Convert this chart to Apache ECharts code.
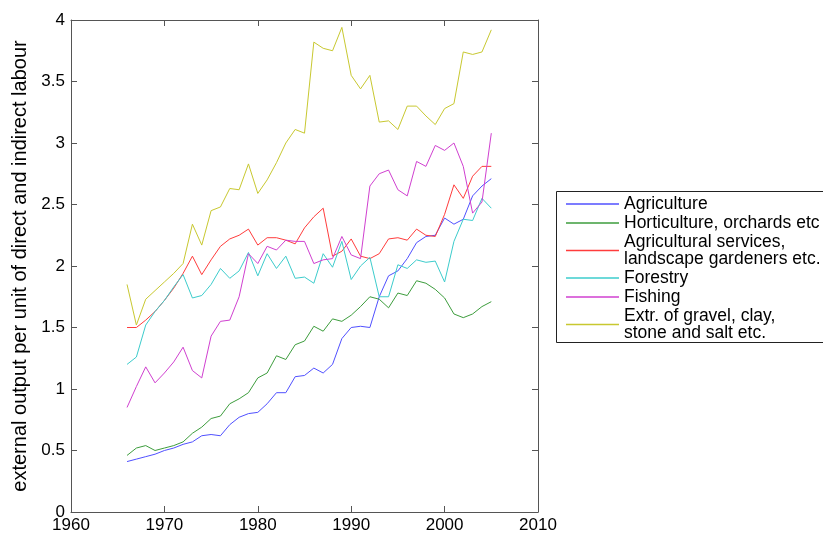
<!DOCTYPE html>
<html><head><meta charset="utf-8">
<script src="https://cdn.jsdelivr.net/npm/echarts@6/dist/echarts.min.js"></script>
<style>html,body{margin:0;padding:0;background:#fff}#c{width:823px;height:534px}</style>
</head><body><div id="c"></div>
<script>
const years = [1966,1967,1968,1969,1970,1971,1972,1973,1974,1975,1976,1977,1978,1979,1980,1981,1982,1983,1984,1985,1986,1987,1988,1989,1990,1991,1992,1993,1994,1995,1996,1997,1998,1999,2000,2001,2002,2003,2004,2005];
const agriculture = [0.41,0.43,0.45,0.47,0.50,0.52,0.55,0.57,0.62,0.63,0.62,0.71,0.77,0.80,0.81,0.88,0.97,0.97,1.10,1.11,1.17,1.13,1.20,1.41,1.50,1.51,1.50,1.75,1.92,1.96,2.06,2.19,2.24,2.25,2.39,2.34,2.38,2.57,2.65,2.71];
const horticulture = [0.46,0.52,0.54,0.50,0.52,0.54,0.57,0.64,0.69,0.76,0.78,0.88,0.92,0.97,1.09,1.13,1.27,1.24,1.36,1.39,1.51,1.47,1.57,1.55,1.60,1.67,1.75,1.73,1.66,1.78,1.76,1.88,1.86,1.81,1.74,1.61,1.58,1.61,1.67,1.71];
const agriServices = [1.50,1.50,1.56,1.63,1.72,1.82,1.94,2.08,1.93,2.05,2.16,2.22,2.25,2.30,2.17,2.23,2.23,2.21,2.18,2.31,2.40,2.47,2.08,2.12,2.22,2.08,2.06,2.10,2.22,2.23,2.21,2.30,2.25,2.24,2.42,2.66,2.55,2.73,2.81,2.81];
const forestry = [1.20,1.26,1.52,1.63,1.72,1.83,1.93,1.74,1.76,1.85,1.98,1.90,1.96,2.11,1.92,2.10,1.98,2.08,1.90,1.91,1.86,2.10,1.99,2.20,1.89,2.00,2.07,1.75,1.75,2.01,1.98,2.05,2.03,2.04,1.87,2.20,2.38,2.37,2.55,2.47];
const fishing = [0.85,1.02,1.18,1.05,1.13,1.22,1.34,1.15,1.09,1.43,1.55,1.56,1.75,2.10,2.02,2.16,2.13,2.21,2.20,2.20,2.02,2.05,2.06,2.24,2.09,2.06,2.65,2.75,2.78,2.62,2.57,2.85,2.81,2.98,2.94,3.00,2.81,2.43,2.52,3.08];
const extraction = [1.85,1.52,1.73,1.80,1.87,1.94,2.02,2.34,2.17,2.45,2.48,2.63,2.62,2.83,2.59,2.70,2.84,3.00,3.11,3.08,3.82,3.77,3.75,3.94,3.55,3.44,3.55,3.17,3.18,3.11,3.30,3.30,3.22,3.15,3.28,3.32,3.74,3.72,3.74,3.92];
const seriesNames = ['Agriculture','Horticulture, orchards etc','Agricultural services,\nlandscape gardeners etc.','Forestry','Fishing','Extr. of gravel, clay,\nstone and salt etc.'];
const seriesColors = ['#5050ff','#3d9d3d','#ff3c3c','#3ccccc','#d040d0','#c8c830'];
const seriesValues = [agriculture, horticulture, agriServices, forestry, fishing, extraction];
const yAxisName = 'external output per unit of direct and indirect labour';

const font = '"Liberation Sans", Arial, sans-serif';
const axisCol = '#555';
function axisCommon(extra) {
  return Object.assign({
    type: 'value',
    axisLine: { show: true, onZero: false, lineStyle: { color: axisCol, width: 1 } },
    axisTick: { show: true, inside: true, length: 6, lineStyle: { color: axisCol } },
    splitLine: { show: false },
    axisLabel: { color: '#000', fontSize: 17, fontFamily: font }
  }, extra);
}
const chart = echarts.init(document.getElementById('c'), null, { renderer: 'canvas' });
chart.setOption({
  animation: false,
  backgroundColor: '#fff',
  grid: { left: 71, top: 20, width: 467, height: 493, containLabel: false },
  xAxis: [
    axisCommon({ min: 1960, max: 2010, interval: 10, position: 'bottom',
      axisLabel: { color: '#000', fontSize: 17, fontFamily: font, margin: 5, formatter: v => String(v) } }),
    axisCommon({ min: 1960, max: 2010, interval: 10, position: 'top', axisLabel: { show: false } })
  ],
  yAxis: [
    axisCommon({ min: 0, max: 4, interval: 0.5, position: 'left',
      name: yAxisName, nameLocation: 'middle', nameGap: 40,
      nameTextStyle: { color: '#000', fontSize: 20, fontFamily: font },
      axisLabel: { color: '#000', fontSize: 17, fontFamily: font, margin: 6 } }),
    axisCommon({ min: 0, max: 4, interval: 0.5, position: 'right', axisLabel: { show: false } })
  ],
  graphic: [{
    type: 'rect', z: 0,
    shape: { x: 556.5, y: 191.5, width: 300, height: 151 },
    style: { fill: '#fff', stroke: '#222', lineWidth: 1 }
  }],
  legend: {
    orient: 'vertical', left: 566, top: 195, padding: 0,
    icon: 'rect', itemWidth: 53, itemHeight: 1.5, itemGap: 1,
    textStyle: { color: '#000', fontSize: 17.5, lineHeight: 17, fontFamily: font },
    data: seriesNames
  },
  series: seriesNames.map((n, k) => ({
    name: n, type: 'line', symbol: 'none', showSymbol: false,
    color: seriesColors[k],
    lineStyle: { width: 1, color: seriesColors[k] },
    data: years.map((y, i) => [y, seriesValues[k][i]])
  }))
});
</script></body></html>
